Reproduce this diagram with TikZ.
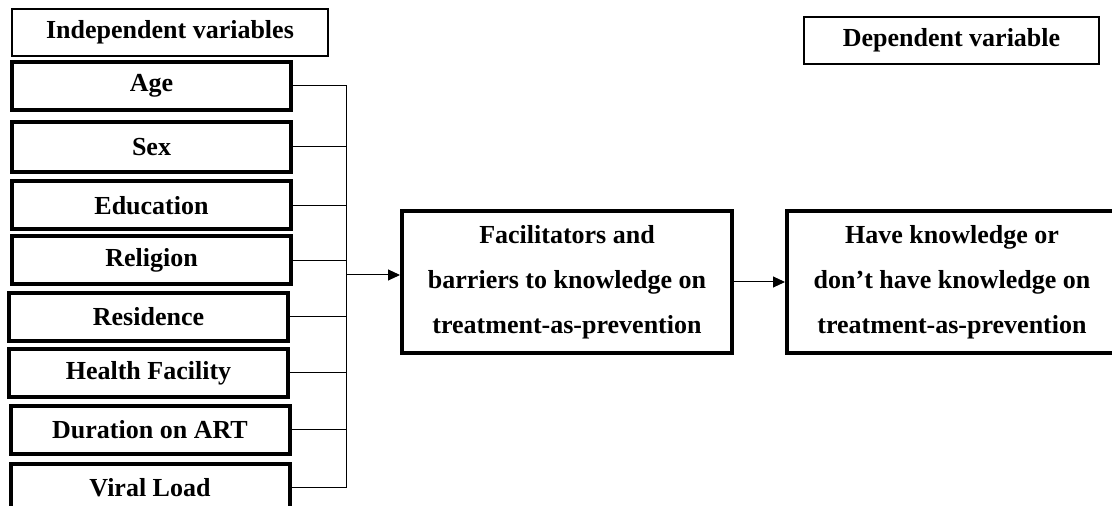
\documentclass[tikz,border=0pt]{standalone}
\usepackage{fontspec}
\setmainfont{Liberation Serif}
\usetikzlibrary{arrows.meta}

\begin{document}
\begin{tikzpicture}[x=0.5pt,y=-0.5pt]
	\tikzset{headbox/.style = {draw, line width=0.75pt, inner sep=0pt, minimum height=23.5pt, font=\fontsize{13}{15}\selectfont\bfseries}}
	\tikzset{varbox/.style = {draw, line width=2pt, inner sep=0pt, minimum width=139.5pt, minimum height=24pt, font=\fontsize{13}{15}\selectfont\bfseries}}
	\tikzset{mainbox/.style = {draw, line width=2pt, inner sep=0pt, minimum width=165pt, minimum height=71pt, align=center, font=\fontsize{13}{22.5}\selectfont\bfseries}}
	\tikzset{conn/.style = {line width=0.5pt}}
	\tikzset{arr/.style = {line width=0.5pt, -{Triangle[length=6pt, width=5.5pt]}}}
	\useasboundingbox (0,0) rectangle (1112,506);
	
	% Knoten
	\node[headbox, minimum width=158pt] (indep) at (170,32.5) {Independent variables};
	\node[headbox, minimum width=147.5pt] (dep) at (951.5,40.5) {Dependent variable};
	
	\node[varbox] (age) at (151.5,86) {Age};
	\node[varbox, minimum height=25pt] (sex) at (151.5,147) {Sex};
	\node[varbox] (edu) at (151.5,205.5) {Education};
	\node[varbox] (rel) at (151.5,260.5) {Religion};
	\node[varbox] (res) at (148.5,317) {Residence};
	\node[varbox] (hf) at (148.5,373) {Health Facility};
	\node[varbox] (dur) at (150,430) {Duration on ART};
	\node[varbox] (vl) at (150,488) {Viral Load};
	
	\node[mainbox] (facil) at (567,282) {Facilitators and\\barriers to knowledge on\\treatment-as-prevention};
	\node[mainbox] (know) at (952,282) {Have knowledge or\\don’t have knowledge on\\treatment-as-prevention};
	\coordinate (junc) at (346,275);
	
	% Kanten
	\draw[conn] (age.east) -| (junc);
	\draw[conn] (sex.east) -| (junc);
	\draw[conn] (edu.east) -| (junc);
	\draw[conn] (rel.east) -| (junc);
	\draw[conn] (res.east) -| (junc);
	\draw[conn] (hf.east) -| (junc);
	\draw[conn] (dur.east) -| (junc);
	\draw[conn] (vl.east) -| (junc);
	\draw[arr] (junc) -- (junc -| facil.west);
	\draw[arr] (facil.east) -- (know.west);
	
\end{tikzpicture}
\end{document}
